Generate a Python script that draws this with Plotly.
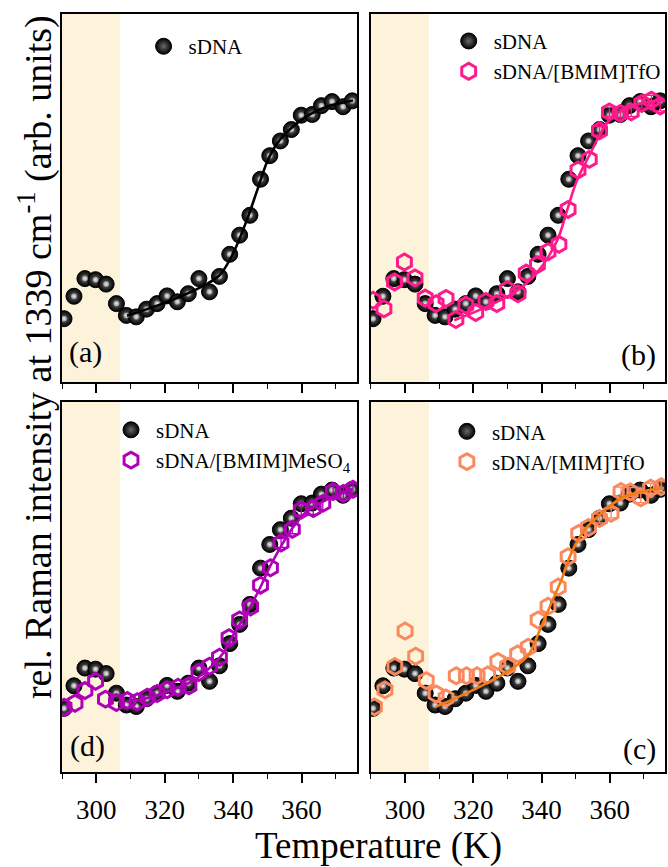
import plotly.graph_objects as go

# ---------------- data ----------------
T_sdna = [290.6, 293.5, 296.7, 299.8, 302.9, 305.9, 308.8, 311.7, 314.7, 317.8,
          320.7, 323.7, 326.9, 330.0, 333.1, 336.0, 339.0, 341.9, 344.9, 348.0,
          350.7, 353.8, 357.0, 359.9, 363.1, 365.8, 368.9, 372.1, 374.8]
I_sdna = [0.172, 0.233, 0.281, 0.278, 0.266, 0.213, 0.181, 0.177, 0.198, 0.213,
          0.234, 0.218, 0.240, 0.281, 0.245, 0.287, 0.347, 0.399, 0.453, 0.551,
          0.615, 0.655, 0.686, 0.725, 0.727, 0.751, 0.762, 0.748, 0.764]
E_sdna = [0.008, 0.008, 0.008, 0.008, 0.008, 0.008, 0.008, 0.008, 0.008, 0.008,
          0.008, 0.008, 0.008, 0.008, 0.008, 0.008, 0.010, 0.010, 0.010, 0.012,
          0.012, 0.012, 0.014, 0.014, 0.014, 0.015, 0.016, 0.016, 0.016]

T_bmim_tfo = [290.6, 293.8, 296.9, 299.8, 302.9, 305.9, 309.1, 312.0, 314.9, 317.8,
              320.7, 323.7, 326.9, 330.0, 333.1, 335.5, 338.8, 341.9, 345.1, 347.8,
              350.7, 354.0, 357.0, 359.9, 363.1, 366.3, 369.4, 372.2, 374.8]
I_bmim_tfo = [0.222, 0.199, 0.272, 0.326, 0.283, 0.228, 0.213, 0.227, 0.170, 0.209,
              0.189, 0.219, 0.213, 0.251, 0.240, 0.296, 0.319, 0.354, 0.374, 0.469,
              0.576, 0.605, 0.683, 0.734, 0.730, 0.734, 0.757, 0.766, 0.750]
E_bmim_tfo = [None] * 22 + [0.012, 0.012, 0.012, 0.012, 0.013, 0.013, 0.013]

T_bmim_meso4 = [290.6, 293.8, 296.7, 299.8, 302.7, 305.9, 309.1, 312.0, 314.9, 317.8,
                320.7, 323.9, 327.1, 330.0, 333.1, 336.0, 338.8, 341.9, 345.1, 348.0,
                350.9, 354.0, 357.3, 359.9, 363.4, 366.2, 369.2, 372.2, 375.0]
I_bmim_meso4 = [0.175, 0.186, 0.220, 0.245, 0.197, 0.188, 0.193, 0.190, 0.202, 0.212,
                0.222, 0.229, 0.233, 0.269, 0.286, 0.310, 0.363, 0.411, 0.446, 0.505,
                0.552, 0.619, 0.656, 0.708, 0.712, 0.726, 0.758, 0.753, 0.764]
E_bmim_meso4 = [None] * 21 + [0.012, 0.012, 0.014, 0.016, 0.018, 0.018, 0.018, 0.018]

T_mim_tfo = [291.0, 294.1, 297.0, 300.0, 303.1, 306.2, 309.1, 312.0, 315.0, 318.0,
             321.1, 324.2, 327.2, 330.1, 333.0, 336.1, 339.0, 341.9, 344.9, 347.8,
             350.9, 353.8, 357.0, 360.4, 363.3, 366.0, 369.1, 372.0, 375.1]
I_mim_tfo = [0.176, 0.222, 0.285, 0.381, 0.313, 0.247, 0.211, 0.200, 0.260, 0.260,
             0.260, 0.262, 0.299, 0.286, 0.319, 0.337, 0.411, 0.448, 0.500, 0.582,
             0.645, 0.661, 0.685, 0.699, 0.758, 0.757, 0.741, 0.767, 0.771]
E_mim_tfo = [None] * 22 + [0.012, 0.012, 0.012, 0.012, 0.013, 0.013, 0.013]

# fitted curves
Tfit_sdna = [309, 320, 330, 336, 340, 344, 347, 350, 353, 357, 362, 368, 375]
Ifit_sdna = [0.180, 0.215, 0.255, 0.290, 0.350, 0.440, 0.520, 0.600, 0.650, 0.690, 0.725, 0.750, 0.765]

Tfit_bmim_tfo = [314.4, 324.0, 332.9, 338.5, 344.6, 347.5, 350.4, 354.3, 357.3, 360.2, 364.0, 368.9, 375.8]
Ifit_bmim_tfo = [0.168, 0.205, 0.249, 0.295, 0.385, 0.467, 0.548, 0.621, 0.675, 0.715, 0.740, 0.757, 0.766]

Tfit_bmim_meso4 = [309, 315, 322, 328, 333, 337, 340, 344, 348, 351, 354, 357, 361, 366, 375]
Ifit_bmim_meso4 = [0.190, 0.200, 0.222, 0.245, 0.280, 0.320, 0.370, 0.430, 0.500, 0.560, 0.610, 0.655, 0.700, 0.730, 0.765]

Tfit_mim_tfo = [308.9, 315.7, 323.5, 331.3, 336.1, 339.5, 342.9, 345.8, 348.7, 352.6, 356.5, 360.4, 364.3, 370.1, 375.9]
Ifit_mim_tfo = [0.176, 0.203, 0.238, 0.279, 0.316, 0.384, 0.457, 0.519, 0.591, 0.654, 0.690, 0.722, 0.744, 0.759, 0.768]

x_range = [290, 376.2]
y_range = [0, 1]
shade_range = [290, 307]

names = ["sDNA", "sDNA/[BMIM]TfO", "sDNA/[BMIM]MeSO<sub>4</sub>", "sDNA/[MIM]TfO"]
panel_labels = ["(a)", "(b)", "(d)", "(c)"]

# ---------------- styles ----------------
FONT = "Liberation Serif, Times New Roman, serif"
C_PINK = "#FF1A8C"
C_PURPLE = "#B000B8"
C_ORANGE_HEX = "#FA8A5E"
C_ORANGE_LINE = "#F57A14"
C_SHADE = "#FDF3DA"

fig = go.Figure()

panels = [
    ("x", "y", "legend", None, (Tfit_sdna, Ifit_sdna), None, "black"),
    ("x2", "y2", "legend2", (T_bmim_tfo, I_bmim_tfo, E_bmim_tfo, names[1]),
     (Tfit_bmim_tfo, Ifit_bmim_tfo), C_PINK, C_PINK),
    ("x3", "y3", "legend3", (T_bmim_meso4, I_bmim_meso4, E_bmim_meso4, names[2]),
     (Tfit_bmim_meso4, Ifit_bmim_meso4), C_PURPLE, C_PURPLE),
    ("x4", "y4", "legend4", (T_mim_tfo, I_mim_tfo, E_mim_tfo, names[3]),
     (Tfit_mim_tfo, Ifit_mim_tfo), C_ORANGE_HEX, C_ORANGE_LINE),
]

ball = dict(symbol="circle", size=16, color="#000000",
            gradient=dict(type="radial", color="#6a6a6a"),
            line=dict(color="black", width=1))
highlight = dict(symbol="circle", size=6, color="#8a8a8a",
                 gradient=dict(type="radial", color="#f4f4f4"), line=dict(width=0))

for xa, ya, lg, hexs, fit, hcol, lcol in panels:
    fig.add_trace(go.Scatter(
        x=T_sdna, y=I_sdna, mode="markers", name=names[0],
        error_y=dict(type="data", array=E_sdna, color="black", thickness=1.3, width=4),
        marker=ball, xaxis=xa, yaxis=ya, legend=lg, showlegend=True))
    fig.add_trace(go.Scatter(
        x=T_sdna, y=I_sdna, mode="markers", marker=highlight,
        xaxis=xa, yaxis=ya, showlegend=False, hoverinfo="skip"))
    if hexs is not None:
        Tx, Iy, Ee, nm = hexs
        idx = [i for i, e in enumerate(Ee) if e is not None]
        # error bars only where they are visible in the original
        fig.add_trace(go.Scatter(
            x=[Tx[i] for i in idx], y=[Iy[i] for i in idx], mode="markers",
            marker=dict(size=1, opacity=0),
            error_y=dict(type="data", array=[Ee[i] for i in idx], color=hcol, thickness=1.3, width=4),
            xaxis=xa, yaxis=ya, showlegend=False, hoverinfo="skip"))
        fig.add_trace(go.Scatter(
            x=Tx, y=Iy, mode="markers", name=nm,
            marker=dict(symbol="hexagon-open", size=16, color=hcol, line=dict(color=hcol, width=3)),
            xaxis=xa, yaxis=ya, legend=lg, showlegend=True))
    fig.add_trace(go.Scatter(
        x=fit[0], y=fit[1], mode="lines", line=dict(color=lcol, width=2.6, shape="spline"),
        xaxis=xa, yaxis=ya, showlegend=False, hoverinfo="skip"))

for xa, ya in [("x", "y"), ("x2", "y2"), ("x3", "y3"), ("x4", "y4")]:
    fig.add_shape(type="rect", xref=xa, yref=ya, x0=shade_range[0], x1=shade_range[1],
                  y0=y_range[0], y1=y_range[1], fillcolor=C_SHADE, line_width=0, layer="below")

W, H = 668, 867
L, R, Tm, B = 62, 1, 14, 95
xd_left = [0, 0.4893]
xd_right = [0.5124, 1]
yd_top = [0.5145, 1]
yd_bot = [0, 0.4881]

def xaxis(domain, anchor, labels):
    return dict(domain=domain, anchor=anchor, range=x_range, showgrid=False, zeroline=False,
                showline=True, linecolor="black", linewidth=1.6, mirror=True,
                ticks="outside", ticklen=9, tickwidth=1.6, tickcolor="black",
                tick0=300, dtick=20, showticklabels=labels, ticklabelstandoff=4,
                tickfont=dict(family=FONT, size=27, color="black"),
                minor=dict(ticks="outside", ticklen=5, tickwidth=1.4, tickcolor="black",
                           tick0=290, dtick=10))

def yaxis(domain, anchor):
    return dict(domain=domain, anchor=anchor, range=y_range, showgrid=False, zeroline=False,
                showline=True, linecolor="black", linewidth=1.6, mirror=True,
                ticks="", showticklabels=False)

def legend(x, y):
    return dict(x=x, y=y, xanchor="left", yanchor="top", bgcolor="rgba(0,0,0,0)",
                font=dict(family=FONT, size=21, color="black"), itemwidth=40,
                tracegroupgap=0, borderwidth=0)

fig.update_layout(
    width=W, height=H, margin=dict(l=L, r=R, t=Tm, b=B),
    paper_bgcolor="white", plot_bgcolor="white",
    font=dict(family=FONT, color="black"),
    xaxis=xaxis(xd_left, "y", False), yaxis=yaxis(yd_top, "x"),
    xaxis2=xaxis(xd_right, "y2", False), yaxis2=yaxis(yd_top, "x2"),
    xaxis3=xaxis(xd_left, "y3", True), yaxis3=yaxis(yd_bot, "x3"),
    xaxis4=xaxis(xd_right, "y4", True), yaxis4=yaxis(yd_bot, "x4"),
    legend=legend(0.127, 0.984),
    legend2=legend(0.633, 0.991),
    legend3=legend(0.073, 0.478),
    legend4=legend(0.630, 0.476),
    showlegend=True,
)

annots = [
    dict(text=panel_labels[0], x=0.008, y=0.554, xanchor="left", yanchor="middle"),
    dict(text=panel_labels[1], x=0.988, y=0.550, xanchor="right", yanchor="middle"),
    dict(text=panel_labels[2], x=0.010, y=0.034, xanchor="left", yanchor="middle"),
    dict(text=panel_labels[3], x=0.988, y=0.030, xanchor="right", yanchor="middle"),
]
for a in annots:
    fig.add_annotation(xref="paper", yref="paper", showarrow=False,
                       font=dict(family=FONT, size=30, color="black"), **a)

fig.add_annotation(text="rel. Raman intensity at 1339 cm<sup>-1</sup> (arb. units)",
                   xref="paper", yref="paper", x=-0.043, y=0.5475, xanchor="center", yanchor="middle",
                   textangle=-90, showarrow=False,
                   font=dict(family=FONT, size=38, color="black"))
fig.add_annotation(text="Temperature (K)", xref="paper", yref="paper",
                   x=0.525, y=-0.097, xanchor="center", yanchor="middle", showarrow=False,
                   font=dict(family=FONT, size=37, color="black"))

fig.write_html("out.html", config={"displayModeBar": False},
               post_script="document.body.style.margin='0px';")
